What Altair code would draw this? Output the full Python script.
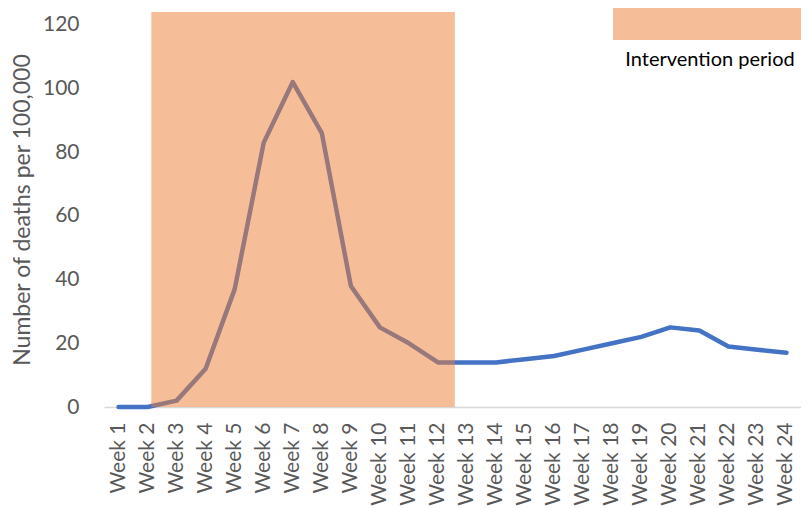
import altair as alt
import pandas as pd

weeks = list(range(1, 25))
week_labels = [f"Week {w}" for w in weeks]
deaths = [0, 0, 2, 12, 37, 83, 102, 86, 38, 25, 20, 14,
          14, 14, 15, 16, 18, 20, 22, 25, 24, 19, 18, 17]
intervention_start = [2.13]
intervention_end = [12.58]
intervention_top = [124]
legend_label = ["Intervention period"]
y_ticks = [0, 20, 40, 60, 80, 100, 120]

FONT = "Lato"
line_df = pd.DataFrame({"week": week_labels, "deaths": deaths})
rect_df = pd.DataFrame({"x1": intervention_start, "x2": intervention_end,
                        "y1": [0], "y2": intervention_top})
leg_df = pd.DataFrame({"label": legend_label})

yscale = alt.Scale(domain=[0, 124], nice=False)

line = alt.Chart(line_df).mark_line(
    color="#4472C4", strokeWidth=4.5, strokeCap="round", strokeJoin="round"
).encode(
    x=alt.X("week:N", sort=week_labels,
            scale=alt.Scale(type="band", paddingInner=0, paddingOuter=0),
            axis=alt.Axis(title=None, labelAngle=-90, labelAlign="right",
                          labelBaseline="middle", labelPadding=15, ticks=False,
                          grid=False, domainColor="#D9D9D9", domainWidth=1.5,
                          labelFont=FONT, labelFontSize=21, labelColor="#595959",
                          labelOverlap=False, labelBound=False, labelLimit=300)),
    y=alt.Y("deaths:Q", scale=yscale,
            axis=alt.Axis(values=y_ticks, title="Number of deaths per 100,000",
                          ticks=False, domain=False, grid=False,
                          labelFont=FONT, labelFontSize=21, labelColor="#595959",
                          labelPadding=25,
                          titleFont=FONT, titleFontSize=23, titleFontWeight="normal",
                          titleColor="#595959", titlePadding=8)),
)

rect = alt.Chart(rect_df).mark_rect(color="#ED7D31", opacity=0.5).encode(
    x=alt.X("x1:Q", scale=alt.Scale(domain=[0.5, 24.5], nice=False, zero=False), axis=None),
    x2="x2:Q",
    y=alt.Y("y1:Q", scale=yscale), y2="y2:Q"
)

leg_rect = alt.Chart(leg_df).mark_rect(color="#ED7D31", opacity=0.5).encode(
    x=alt.value(509), x2=alt.value(705), y=alt.value(-7), y2=alt.value(28)
)
leg_text = alt.Chart(leg_df).mark_text(
    font=FONT, fontSize=20, color="#000000", align="center", baseline="middle"
).encode(text="label:N", x=alt.value(606), y=alt.value(48))

chart = alt.layer(line, rect, leg_rect, leg_text).resolve_scale(
    x="independent"
).properties(
    width=697, height=395,
    autosize=alt.AutoSizeParams(type="none"),
    padding={"left": 96, "top": 4, "right": 0, "bottom": 100},
).configure_view(stroke=None)

chart.save("out.html", embed_options={"renderer": "svg", "actions": False})
